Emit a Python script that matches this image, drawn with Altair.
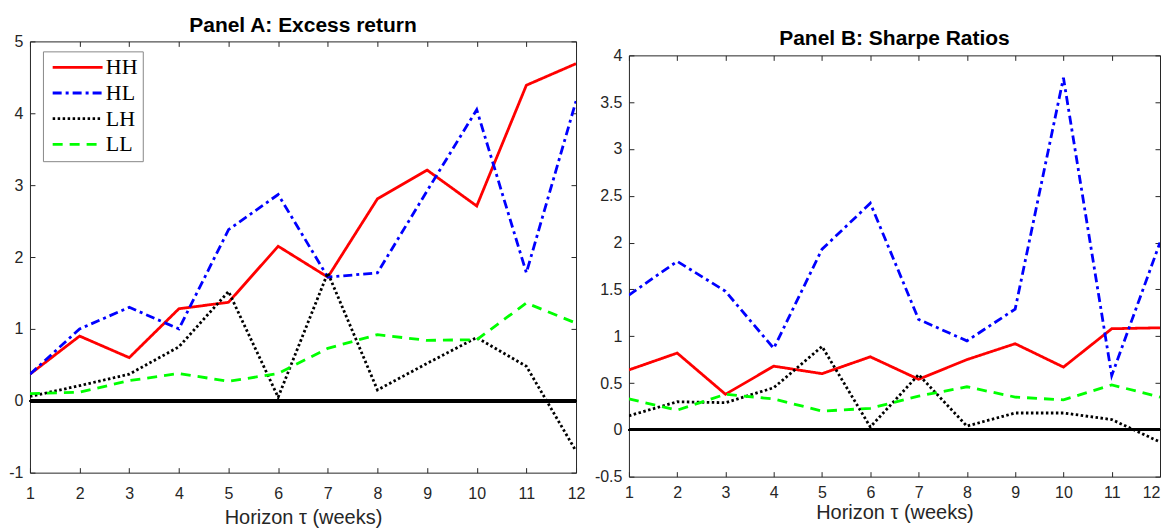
import altair as alt
import pandas as pd

horizon = [1, 2, 3, 4, 5, 6, 7, 8, 9, 10, 11, 12]
series = ["HH", "HL", "LH", "LL"]

# Panel A: Excess return
a_HH = [0.37, 0.90, 0.60, 1.28, 1.37, 2.15, 1.72, 2.81, 3.21, 2.71, 4.39, 4.69]
a_HL = [0.37, 1.00, 1.30, 1.00, 2.38, 2.87, 1.72, 1.78, 2.92, 4.05, 1.78, 4.17]
a_LH = [0.06, 0.21, 0.37, 0.75, 1.52, 0.05, 1.78, 0.15, 0.52, 0.88, 0.48, -0.70]
a_LL = [0.10, 0.12, 0.28, 0.38, 0.27, 0.38, 0.73, 0.92, 0.84, 0.85, 1.36, 1.08]

# Panel B: Sharpe ratios
b_HH = [0.64, 0.82, 0.38, 0.68, 0.60, 0.78, 0.54, 0.75, 0.92, 0.67, 1.08, 1.09]
b_HL = [1.44, 1.80, 1.48, 0.87, 1.93, 2.42, 1.18, 0.95, 1.29, 3.76, 0.58, 2.00]
b_LH = [0.15, 0.30, 0.29, 0.45, 0.89, 0.03, 0.59, 0.04, 0.18, 0.18, 0.11, -0.13]
b_LL = [0.33, 0.21, 0.38, 0.33, 0.20, 0.23, 0.36, 0.46, 0.35, 0.32, 0.48, 0.35]

a_yticks = [-1, 0, 1, 2, 3, 4, 5]
b_yticks = [-0.5, 0, 0.5, 1, 1.5, 2, 2.5, 3, 3.5, 4]

colors = ["#ff0000", "#0000ff", "#000000", "#00ff00"]
dashes = [[1, 0], [9, 4, 3, 4], [2.5, 2.5], [10, 7]]


def to_df(vals):
    rows = []
    for s, v in zip(series, vals):
        for h, y in zip(horizon, v):
            rows.append({"h": h, "v": y, "series": s})
    return pd.DataFrame(rows)


df_a = to_df([a_HH, a_HL, a_LH, a_LL])
df_b = to_df([b_HH, b_HL, b_LH, b_LL])

AX = dict(
    labelFont="Liberation Sans", labelFontSize=16, labelColor="#262626",
    titleFont="Liberation Sans", titleFontSize=20, titleFontWeight="normal",
    titleColor="#262626", tickColor="#262626", tickSize=5, offset=-5,
    domain=False, grid=False, labelFlush=False,
)


def panel(df, title, ydom, yticks, zero_w, w, h, legend, label_pad, title_pad, last_align):
    xs = alt.Scale(domain=[1, 12], nice=False, zero=False)
    ys = alt.Scale(domain=ydom, nice=False, zero=False)
    base = alt.Chart(df)
    zero = base.mark_rule(color="black", strokeWidth=zero_w).encode(
        y=alt.Y(datum=0, scale=ys, axis=None)
    )
    lines = base.mark_line(strokeWidth=2.8, clip=True).encode(
        x=alt.X("h:Q", scale=xs, axis=alt.Axis(
            values=horizon, orient="bottom", title="Horizon τ (weeks)",
            labelPadding=label_pad, titlePadding=title_pad,
            labelAlign={"condition": {"test": "datum.value == 12", "value": last_align},
                        "value": "center"},
            labelExpr="datum.value + ''", **AX)),
        y=alt.Y("v:Q", scale=ys, axis=alt.Axis(values=yticks, orient="left", title=None,
                                               labelPadding=7,
                                               labelExpr="datum.value + ''", **AX)),
        color=alt.Color("series:N", scale=alt.Scale(domain=series, range=colors), legend=legend),
        strokeDash=alt.StrokeDash("series:N", scale=alt.Scale(domain=series, range=dashes),
                                  legend=legend),
    )
    frame = base.mark_point(opacity=0).encode(
        x=alt.X("h:Q", scale=xs, axis=alt.Axis(values=horizon, orient="top", labels=False,
                                               title=None, **AX)),
        y=alt.Y("v:Q", scale=ys, axis=alt.Axis(values=yticks, orient="right", labels=False,
                                               title=None, **AX)),
    )
    return alt.layer(zero, lines, frame).resolve_axis(x="independent", y="independent").properties(
        width=w, height=h, title=title
    )


legend_a = alt.Legend(
    orient="none", legendX=13, legendY=42, title=None, symbolType="M-1,0H7",
    symbolSize=156.25, symbolStrokeWidth=2.8, labelFont="Liberation Serif", labelFontSize=22,
    labelColor="black", fillColor="white", strokeColor="#888888", padding=5, rowPadding=3.7,
    labelOffset=36,
)

title_a = alt.TitleParams("Panel A: Excess return", font="Liberation Sans", fontSize=21,
                          fontWeight="bold", color="black", offset=-3)
title_b = alt.TitleParams("Panel B: Sharpe Ratios", font="Liberation Sans", fontSize=21,
                          fontWeight="bold", color="black", offset=-2)

pa = panel(df_a, title_a, [-1, 5], a_yticks, 3, 547, 432, legend_a, 13, 5.5, "center")
pb = panel(df_b, title_b, [-0.5, 4], b_yticks, 2, 532, 422, None, 8, 2, "right")


def spacer(hgt):
    return alt.Chart(pd.DataFrame({"s": [0]})).mark_point(opacity=0, size=1).properties(
        width=1, height=hgt, view=alt.ViewBackground(stroke="transparent")
    )


chart = alt.hconcat(
    alt.vconcat(spacer(4), pa, spacing=0),
    alt.vconcat(spacer(17), pb, spacing=0),
    spacing=7,
).resolve_scale(
    color="independent", strokeDash="independent"
).properties(
    padding={"left": 0, "top": 0, "right": 0, "bottom": 0}
).configure_view(stroke="#262626", strokeWidth=1)

chart.save("out.html", embed_options={"renderer": "svg", "actions": False})
